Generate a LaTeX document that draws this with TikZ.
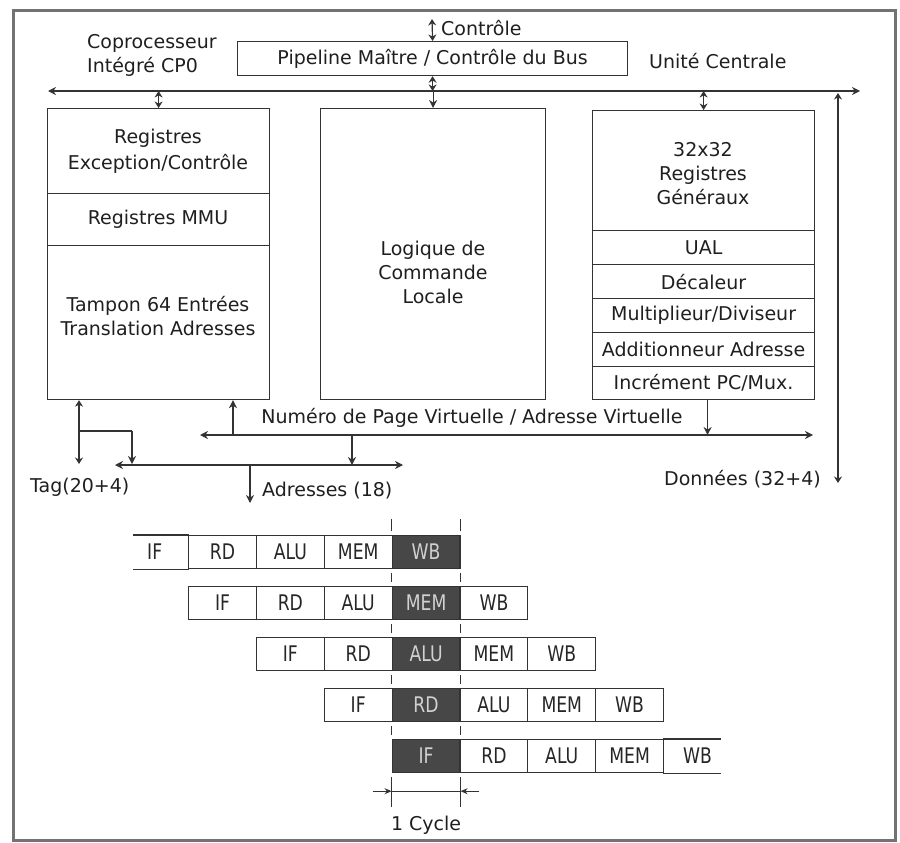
\documentclass[tikz,border=0pt]{standalone}
\usepackage{fontspec}
\usepackage{graphicx}
\setmainfont{DejaVu Sans}
\usetikzlibrary{arrows.meta}

% narrow stage labels in the pipeline chart
\newcommand\stg[1]{\scalebox{0.8}[1]{#1}}

\tikzset{
  ink/.style={draw=black!80, line width=1.2pt},
  blk/.style={ink, rectangle, inner sep=0pt, anchor=north west},
  lbl/.style={text=black!88, font=\fontsize{19}{24}\selectfont, align=center, inner sep=0pt},
  bus/.style={ink, {Stealth[length=8pt,width=8pt]}-{Stealth[length=8pt,width=8pt]}},
  tobus/.style={ink, -{Stealth[length=8pt,width=8pt]}},
  dbl/.style={ink, {Stealth[length=6.5pt,width=8pt]}-{Stealth[length=6.5pt,width=8pt]}},
  cell/.style={ink, rectangle, inner sep=0pt, anchor=north west,
    minimum width=67.85pt, minimum height=33pt,
    font=\fontsize{21.5}{22}\selectfont, text=black!85},
  hot/.style={cell, fill=black!72, text=white!82!black},
  opencell/.style={cell, draw=none},
  tick/.style={draw=black!80, line width=0.9pt},
}

\begin{document}
\begin{tikzpicture}[x=1pt,y=-1pt]
\useasboundingbox (0,0) rectangle (900,843);

% outer frame
\draw[draw=black!55, line width=3pt] (13,11) rectangle (895,840);

% ---------- top: bus controller ----------
\node[blk, minimum width=390pt, minimum height=34pt] (pipe) at (237,41) {};
\node[lbl] (pipeT) at (pipe.center) {Pipeline Maître / Contrôle du Bus};
\coordinate (ctl) at (432,19);
\draw[dbl] (ctl) -- (pipe.north);
\node[lbl, anchor=west] (ctlT) at (441,28) {Contrôle};

\node[lbl, anchor=west, align=left] (cpT) at (87,55) {Coprocesseur\\Intégré CP0};
\node[lbl, anchor=west] (cuT) at (649,61) {Unité Centrale};

% main internal bus
\coordinate (busL) at (48,91);
\coordinate (busR) at (860,91);
\draw[bus] (busL) -- (busR);

% ---------- coprocessor CP0 ----------
\node[blk, minimum width=222pt, minimum height=85pt]  (exc) at (47,108) {};
\node[blk, minimum width=222pt, minimum height=52pt]  (mmu) at (47,193) {};
\node[blk, minimum width=222pt, minimum height=154pt] (tlb) at (47,245) {};
\node[lbl] (excT) at (158,151) {Registres\\[2pt]Exception/Contrôle};
\node[lbl] (mmuT) at (158,219) {Registres MMU};
\node[lbl] (tlbT) at (158,316) {Tampon 64 Entrées\\Translation Adresses};

% ---------- local control logic ----------
\node[blk, minimum width=225pt, minimum height=291pt] (loc) at (320,108) {};
\node[lbl] (locT) at (433,272) {Logique de\\Commande\\Locale};

% ---------- CPU datapath ----------
\node[blk, minimum width=222pt, minimum height=120pt] (gen) at (592,110) {};
\node[blk, minimum width=222pt, minimum height=34pt]  (ual) at (592,230) {};
\node[blk, minimum width=222pt, minimum height=34pt]  (dec) at (592,264) {};
\node[blk, minimum width=222pt, minimum height=34pt]  (mul) at (592,298) {};
\node[blk, minimum width=222pt, minimum height=34pt]  (add) at (592,332) {};
\node[blk, minimum width=222pt, minimum height=33pt]  (inc) at (592,366) {};
\node[lbl] (genT) at (703,174) {32x32\\Registres\\Généraux};
\node[lbl] (ualT) at (ual.center) {UAL};
\node[lbl] (decT) at (dec.center) {Décaleur};
\node[lbl] (mulT) at (mul.center) {Multiplieur/Diviseur};
\node[lbl] (addT) at (add.center) {Additionneur Adresse};
\node[lbl] (incT) at (inc.center) {Incrément PC/Mux.};

% links to the internal bus
\draw[dbl] (pipe.south) -- (pipe.south |- busL);
\draw[tobus] (loc.north |- busL) -- (loc.north);
\draw[dbl] (exc.north |- busL) -- (exc.north);
\draw[dbl] (gen.north |- busL) -- (gen.north);

% data bus
\coordinate (dataTop) at (838,93);
\coordinate (dataEnd) at (838,483);
\draw[dbl] (dataTop) -- (dataEnd);
\node[lbl, anchor=east] (dataT) at (821,479) {Données (32+4)};

% virtual address bus
\coordinate (vaL) at (200,435);
\coordinate (vaR) at (813,435);
\draw[bus] (vaL) -- (vaR);
\node[lbl] (vaT) at (472,418) {Numéro de Page Virtuelle / Adresse Virtuelle};
\draw[tobus] ([xshift=4pt]inc.south) -- ([xshift=4pt]inc.south |- vaL);
\coordinate (vaTap) at (233,435);
\draw[tobus] (vaTap) -- (vaTap |- tlb.south);

% physical address bus
\coordinate (adL) at (115,465);
\coordinate (adR) at (403,465);
\draw[bus] (adL) -- (adR);
\coordinate (vaAd) at (352,435);
\draw[tobus] (vaAd) -- (vaAd |- adL);
\coordinate (adOut) at (250,503);
\draw[tobus] (adOut |- adL) -- (adOut);
\node[lbl, anchor=west] (adT) at (262,491) {Adresses (18)};

% tag lines
\coordinate (tagEnd) at (79,464);
\draw[dbl] (tagEnd |- tlb.south) -- (tagEnd);
\coordinate (tagJ) at (79,431);
\coordinate (tagK) at (132,431);
\coordinate (tagIn) at (132,464);
\draw[ink] (tagJ) -- (tagK);
\draw[tobus] (tagK) -- (tagIn);
\node[lbl, anchor=west] (tagT) at (30,487) {Tag(20+4)};

% ---------- five-stage pipeline ----------
\foreach \r in {1,...,5}{
  \foreach \s/\t in {0/IF,1/RD,2/ALU,3/MEM,4/WB}{
    \pgfmathtruncatemacro{\col}{\r-1+\s}
    \pgfmathsetmacro{\xx}{120.15+67.85*\col}
    \pgfmathsetmacro{\yy}{535+51*(\r-1)}
    \ifnum\col=4
      \node[hot] (c\r-\col) at (\xx,\yy) {\stg{\t}};
    \else\ifnum\col=0
      \node[opencell] (c\r-\col) at (\xx,\yy) {\stg{\t}};
    \else\ifnum\col=8
      \node[opencell] (c\r-\col) at (\xx,\yy) {\stg{\t}};
    \else
      \node[cell] (c\r-\col) at (\xx,\yy) {\stg{\t}};
    \fi\fi\fi
  }
}
% open-ended first and last cells
\draw[ink] ([xshift=12.85pt]c1-0.north west) -- (c1-0.north east);
\draw[ink] ([xshift=12.85pt]c1-0.south west) -- (c1-0.south east);
\draw[ink] (c5-8.north west) -- ([xshift=-10.8pt]c5-8.north east);
\draw[ink] (c5-8.south west) -- ([xshift=-10.8pt]c5-8.south east);

% cycle boundary marks
\draw[tick] ([yshift=4pt]c1-4.north west) -- ([yshift=16pt]c1-4.north west);
\draw[tick] ([yshift=4pt]c1-4.north east) -- ([yshift=16pt]c1-4.north east);
\foreach \r [evaluate=\r as \n using int(\r+1)] in {1,...,4}{
  \draw[tick] ([yshift=-4pt]c\r-4.south west) -- ([yshift=4pt]c\n-4.north west);
  \draw[tick] ([yshift=-4pt]c\r-4.south east) -- ([yshift=4pt]c\n-4.north east);
}
\draw[tick] ([yshift=-4pt]c5-4.south west) -- ([yshift=-34pt]c5-4.south west);
\draw[tick] ([yshift=-4pt]c5-4.south east) -- ([yshift=-34pt]c5-4.south east);

% one-cycle dimension
\coordinate (cycL) at ([yshift=-18pt]c5-4.south west);
\coordinate (cycR) at ([yshift=-18pt]c5-4.south east);
\coordinate (cycLo) at ([xshift=-19pt]cycL);
\coordinate (cycRo) at ([xshift=18pt]cycR);
\draw[ink, line width=0.9pt, -{Stealth[length=7pt,width=6pt]}] (cycLo) -- (cycL);
\draw[ink, line width=0.9pt] (cycL) -- (cycR);
\draw[ink, line width=0.9pt, -{Stealth[length=7pt,width=6pt]}] (cycRo) -- (cycR);
\node[lbl] (cycT) at ([yshift=-52pt]c5-4.south) {1 Cycle};

\end{tikzpicture}
\end{document}
